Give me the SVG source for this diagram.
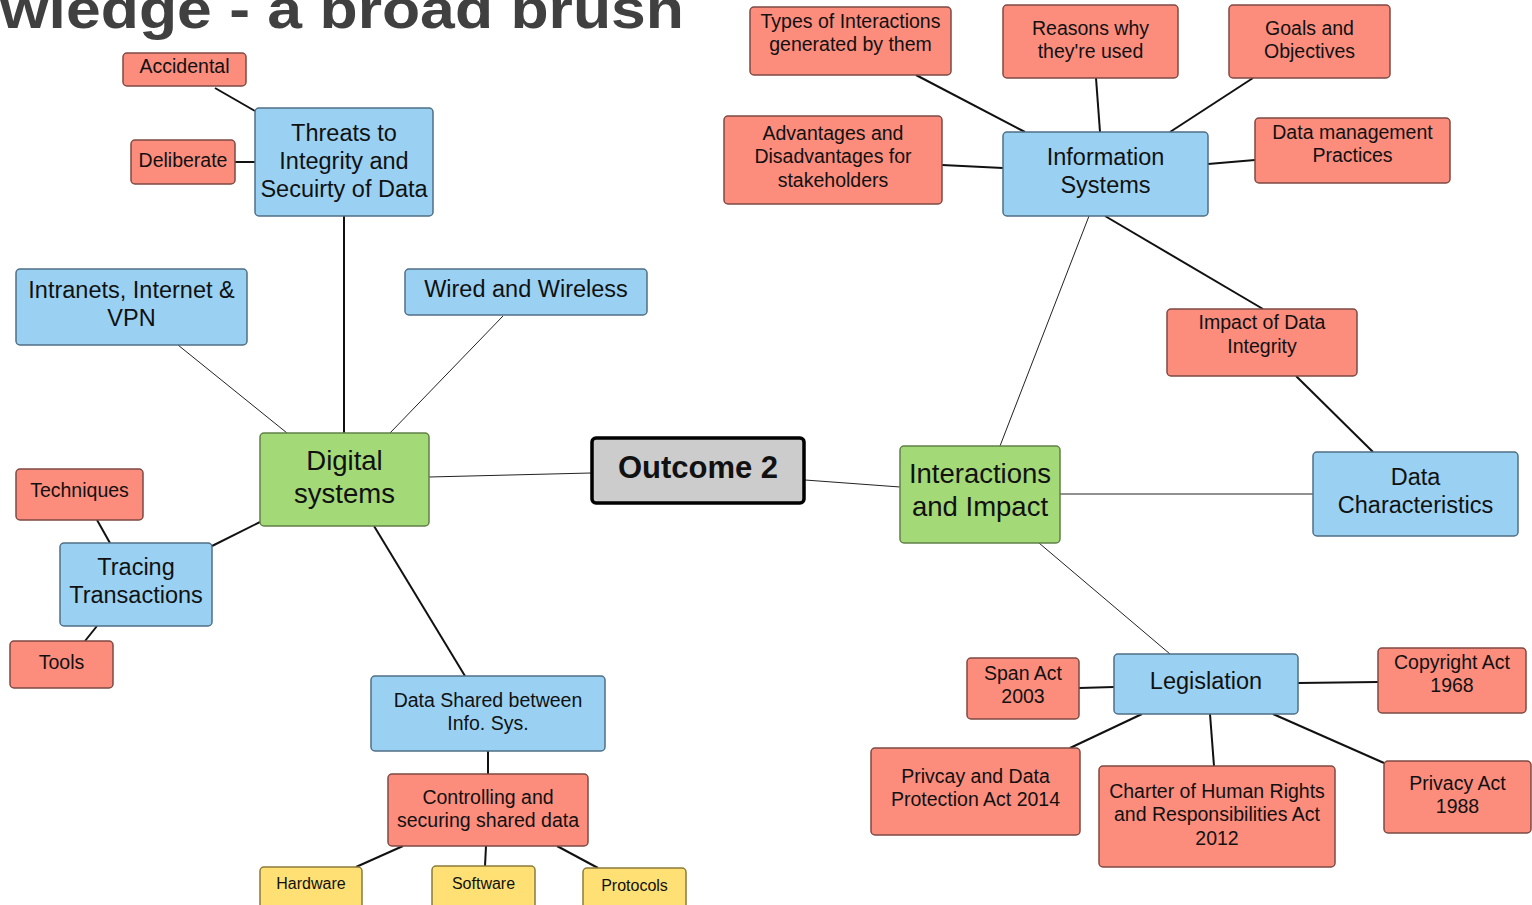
<svg xmlns="http://www.w3.org/2000/svg" width="1532" height="905" viewBox="0 0 1532 905">
<style>
text{font-family:"Liberation Sans",Arial,sans-serif;fill:#111;text-anchor:middle}
.r{fill:#FC8D7D;stroke:#7E4A44;stroke-width:1.5}
.b{fill:#9AD1F3;stroke:#4F6F86;stroke-width:1.5}
.g{fill:#A3D977;stroke:#62804A;stroke-width:1.5}
.y{fill:#FFE074;stroke:#8C7A3A;stroke-width:1.5}
.o{fill:#CCCCCC;stroke:#000;stroke-width:3.5}
.k{stroke:#111;stroke-width:2;fill:none}
.t{stroke:#222;stroke-width:1;fill:none}
.s18{font-size:19.5px}
.s22{font-size:23.5px}
.s26{font-size:27.5px}
.s15{font-size:16px}
</style>
<rect width="1532" height="905" fill="#fff"/>
<text x="0" y="28" transform="translate(0,28) scale(1,1.15) translate(0,-28)" style="font-family:'Liberation Sans',Arial,sans-serif;font-weight:bold;font-size:48px;fill:#404040;text-anchor:start" textLength="684" lengthAdjust="spacingAndGlyphs">wledge - a broad brush</text>
<g id="connectors">
<path class="k" d="M215,88 L255,111"/>
<path class="k" d="M235,162 L255,162"/>
<path class="k" d="M344,216 L344,433"/>
<path class="t" d="M178,345 L287,433"/>
<path class="t" d="M503,316 L390,433"/>
<path class="t" d="M429,477 L591,473"/>
<path class="k" d="M260,522 L212,546"/>
<path class="k" d="M97,520 L110,543"/>
<path class="k" d="M97,626 L85,641"/>
<path class="k" d="M374,526 L465,676"/>
<path class="k" d="M488,751 L488,774"/>
<path class="k" d="M403,846 L356,867"/>
<path class="k" d="M486,846 L485,866"/>
<path class="k" d="M557,846 L598,868"/>
<path class="t" d="M805,480 L900,487"/>
<path class="t" d="M1000,446 L1089,216"/>
<path class="t" d="M1060,494 L1313,494"/>
<path class="t" d="M1039,543 L1170,654"/>
<path class="k" d="M1105,216 L1263,309"/>
<path class="k" d="M1296,376 L1373,452"/>
<path class="k" d="M1025,132 L916,75"/>
<path class="k" d="M1100,132 L1096,78"/>
<path class="k" d="M1170,132 L1253,78"/>
<path class="k" d="M1003,168 L942,165"/>
<path class="k" d="M1208,164 L1255,160"/>
<path class="k" d="M1114,687 L1079,688"/>
<path class="k" d="M1298,683 L1378,682"/>
<path class="k" d="M1142,714 L1070,748"/>
<path class="k" d="M1210,714 L1214,766"/>
<path class="k" d="M1273,714 L1384,763"/>
</g>
<g id="accidental"><rect class="r" x="123" y="53" width="123" height="33" rx="4"/><text class="s18" x="184.5" y="73">Accidental</text></g>
<g id="deliberate"><rect class="r" x="131" y="140" width="104" height="44" rx="4"/><text class="s18" x="183" y="167">Deliberate</text></g>
<g id="threats"><rect class="b" x="255" y="108" width="178" height="108" rx="4"/><text class="s22" x="344" y="141">Threats to</text><text class="s22" x="344" y="169">Integrity and</text><text class="s22" x="344" y="197">Secuirty of Data</text></g>
<g id="intranets"><rect class="b" x="16" y="269" width="231" height="76" rx="4"/><text class="s22" x="131.5" y="298">Intranets, Internet &amp;</text><text class="s22" x="131.5" y="326">VPN</text></g>
<g id="wired"><rect class="b" x="405" y="269" width="242" height="46" rx="4"/><text class="s22" x="526" y="297">Wired and Wireless</text></g>
<g id="digital"><rect class="g" x="260" y="433" width="169" height="93" rx="4"/><text class="s26" x="344.5" y="470">Digital</text><text class="s26" x="344.5" y="503">systems</text></g>
<g id="techniques"><rect class="r" x="16" y="469" width="127" height="51" rx="4"/><text class="s18" x="79.5" y="497">Techniques</text></g>
<g id="tracing"><rect class="b" x="60" y="543" width="152" height="83" rx="4"/><text class="s22" x="136" y="575">Tracing</text><text class="s22" x="136" y="603">Transactions</text></g>
<g id="tools"><rect class="r" x="10" y="641" width="103" height="47" rx="4"/><text class="s18" x="61.5" y="669">Tools</text></g>
<g id="datashared"><rect class="b" x="371" y="676" width="234" height="75" rx="4"/><text class="s18" x="488" y="707">Data Shared between</text><text class="s18" x="488" y="730">Info. Sys.</text></g>
<g id="controlling"><rect class="r" x="388" y="774" width="200" height="72" rx="4"/><text class="s18" x="488" y="804">Controlling and</text><text class="s18" x="488" y="827">securing shared data</text></g>
<g id="hardware"><rect class="y" x="260" y="867" width="102" height="42" rx="4"/><text class="s15" x="311" y="889">Hardware</text></g>
<g id="software"><rect class="y" x="432" y="866" width="103" height="43" rx="4"/><text class="s15" x="483.5" y="889">Software</text></g>
<g id="protocols"><rect class="y" x="583" y="868" width="103" height="41" rx="4"/><text class="s15" x="634.5" y="891">Protocols</text></g>
<g id="outcome"><rect class="o" x="592" y="438" width="212" height="65" rx="4"/><text x="698" y="478" style="font-size:31px;font-weight:bold">Outcome 2</text></g>
<g id="interactions"><rect class="g" x="900" y="446" width="160" height="97" rx="4"/><text class="s26" x="980" y="483">Interactions</text><text class="s26" x="980" y="516">and Impact</text></g>
<g id="types"><rect class="r" x="750" y="7" width="201" height="68" rx="4"/><text class="s18" x="850.5" y="28">Types of Interactions</text><text class="s18" x="850.5" y="51">generated by them</text></g>
<g id="reasons"><rect class="r" x="1003" y="5" width="175" height="73" rx="4"/><text class="s18" x="1090.5" y="35">Reasons why</text><text class="s18" x="1090.5" y="58">they're used</text></g>
<g id="goals"><rect class="r" x="1229" y="5" width="161" height="73" rx="4"/><text class="s18" x="1309.5" y="35">Goals and</text><text class="s18" x="1309.5" y="58">Objectives</text></g>
<g id="advantages"><rect class="r" x="724" y="116" width="218" height="88" rx="4"/><text class="s18" x="833" y="140">Advantages and</text><text class="s18" x="833" y="163">Disadvantages for</text><text class="s18" x="833" y="187">stakeholders</text></g>
<g id="infosys"><rect class="b" x="1003" y="132" width="205" height="84" rx="4"/><text class="s22" x="1105.5" y="165">Information</text><text class="s22" x="1105.5" y="193">Systems</text></g>
<g id="datamgmt"><rect class="r" x="1255" y="118" width="195" height="65" rx="4"/><text class="s18" x="1352.5" y="139">Data management</text><text class="s18" x="1352.5" y="162">Practices</text></g>
<g id="impact"><rect class="r" x="1167" y="309" width="190" height="67" rx="4"/><text class="s18" x="1262" y="329">Impact of Data</text><text class="s18" x="1262" y="353">Integrity</text></g>
<g id="datachar"><rect class="b" x="1313" y="452" width="205" height="84" rx="4"/><text class="s22" x="1415.5" y="485">Data</text><text class="s22" x="1415.5" y="513">Characteristics</text></g>
<g id="legislation"><rect class="b" x="1114" y="654" width="184" height="60" rx="4"/><text class="s22" x="1206" y="689">Legislation</text></g>
<g id="span"><rect class="r" x="967" y="658" width="112" height="61" rx="4"/><text class="s18" x="1023" y="680">Span Act</text><text class="s18" x="1023" y="703">2003</text></g>
<g id="copyright"><rect class="r" x="1378" y="648" width="148" height="65" rx="4"/><text class="s18" x="1452" y="669">Copyright Act</text><text class="s18" x="1452" y="692">1968</text></g>
<g id="privcay"><rect class="r" x="871" y="748" width="209" height="87" rx="4"/><text class="s18" x="975.5" y="783">Privcay and Data</text><text class="s18" x="975.5" y="806">Protection Act 2014</text></g>
<g id="charter"><rect class="r" x="1099" y="766" width="236" height="101" rx="4"/><text class="s18" x="1217" y="798">Charter of Human Rights</text><text class="s18" x="1217" y="821">and Responsibilities Act</text><text class="s18" x="1217" y="845">2012</text></g>
<g id="privacy"><rect class="r" x="1384" y="761" width="147" height="72" rx="4"/><text class="s18" x="1457.5" y="790">Privacy Act</text><text class="s18" x="1457.5" y="813">1988</text></g>
</svg>
